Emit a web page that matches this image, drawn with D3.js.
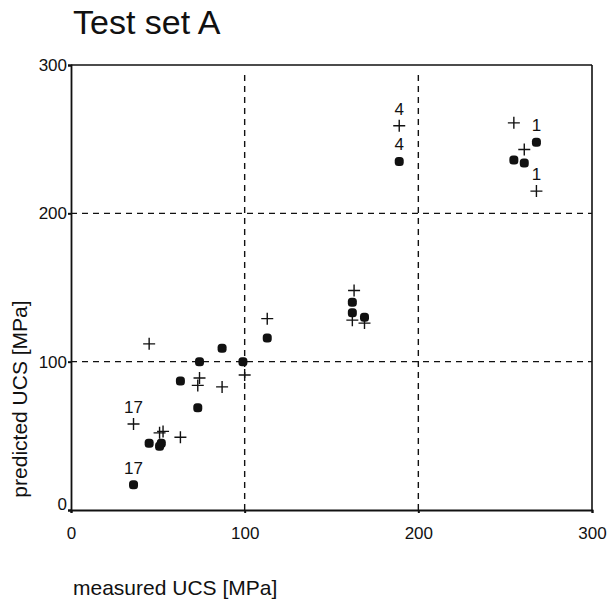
<!DOCTYPE html>
<html><head><meta charset="utf-8">
<script src="https://cdn.jsdelivr.net/npm/d3@7"></script>
<style>body{margin:0;background:#fff}svg{display:block}text{font-family:"Liberation Sans",Arial,sans-serif;fill:#111}</style>
</head><body>
<svg id="c" width="608" height="603"></svg>
<script>
const title = "Test set A";
const xLabel = "measured UCS [MPa]";
const yLabel = "predicted UCS [MPa]";
const xTicks = [0, 100, 200, 300];
const yTicks = [0, 100, 200, 300];
const gridX = [100, 200];
const gridY = [100, 200];
// filled dots series [measured, predicted]
const dotX = [36, 45, 51, 52, 63, 74, 73, 87, 99, 113, 162, 162, 169, 189, 255, 261, 268];
const dotY = [17, 45, 43, 45, 87, 100, 69, 109, 100, 116, 140, 133, 130, 235, 236, 234, 248];
// plus series
const plusX = [36, 45, 51, 53, 63, 74, 73, 87, 100, 113, 163, 162, 169, 189, 255, 261, 268];
const plusY = [58, 112, 52, 53, 49, 89, 84, 83, 91, 129, 148, 128, 126, 259, 261, 243, 215];
// point labels
const labelText = ["17", "17", "4", "4", "1", "1"];
const labelX = [36, 36, 189, 189, 268, 268];
const labelY = [58, 17, 259, 235, 248, 215];

const svg = d3.select("#c");
const x = d3.scaleLinear().domain([0, 300]).range([71, 592]);
const y = d3.scaleLinear().domain([0, 300]).range([510, 65]);

// frame
svg.append("line").attr("x1", x(0)).attr("x2", x(300)).attr("y1", y(300)).attr("y2", y(300)).attr("stroke", "#111").attr("stroke-width", 1.6);
svg.append("line").attr("x1", x(300)).attr("x2", x(300)).attr("y1", y(300)).attr("y2", y(0)).attr("stroke", "#111").attr("stroke-width", 1.6);

// grid
svg.selectAll(".gx").data(gridX).enter().append("line")
  .attr("x1", d => x(d)).attr("x2", d => x(d)).attr("y1", y(0)).attr("y2", y(296))
  .attr("stroke", "#111").attr("stroke-width", 1.4).attr("stroke-dasharray", "6,5");
svg.selectAll(".gy").data(gridY).enter().append("line")
  .attr("x1", x(0)).attr("x2", x(300)).attr("y1", d => y(d)).attr("y2", d => y(d))
  .attr("stroke", "#111").attr("stroke-width", 1.4).attr("stroke-dasharray", "6,5");

// axes
const xa = svg.append("g").attr("transform", `translate(0,${y(0)})`)
  .call(d3.axisBottom(x).tickValues(xTicks).tickSize(3).tickPadding(14));
const ya = svg.append("g").attr("transform", `translate(${x(0)},0)`)
  .call(d3.axisLeft(y).tickValues(yTicks).tickSize(3).tickPadding(1));
[xa, ya].forEach(g => {
  g.select(".domain").attr("stroke", "#111").attr("stroke-width", 1.8);
  g.selectAll(".tick line").attr("stroke", "#111").attr("stroke-width", 2);
  g.selectAll(".tick text").attr("font-size", 17).attr("font-family", "Liberation Sans, Arial, sans-serif").attr("fill", "#111");
});
ya.selectAll(".tick text").attr("dy", (d) => d === 0 ? "-0.05em" : "0.32em");

// dots
svg.selectAll(".dot").data(dotX.map((d, i) => [d, dotY[i]])).enter().append("rect")
  .attr("x", d => x(d[0]) - 4.5).attr("y", d => y(d[1]) - 4.5)
  .attr("width", 9).attr("height", 9).attr("rx", 3.5).attr("fill", "#111");

// plus
svg.selectAll(".plus").data(plusX.map((d, i) => [d, plusY[i]])).enter().append("path")
  .attr("d", d => { const cx = x(d[0]), cy = y(d[1]); return `M${cx-6},${cy}H${cx+6}M${cx},${cy-6}V${cy+6}`; })
  .attr("stroke", "#111").attr("stroke-width", 1.4).attr("fill", "none");

// labels
svg.selectAll(".lbl").data(labelText.map((t, i) => [t, labelX[i], labelY[i]])).enter().append("text")
  .attr("x", d => x(d[1])).attr("y", d => y(d[2]) - 11)
  .attr("text-anchor", "middle").attr("font-size", 17).text(d => d[0]);

// titles
svg.append("text").attr("x", 73).attr("y", 34).attr("font-size", 34).text(title);
svg.append("text").attr("x", 73).attr("y", 595).attr("font-size", 21).text(xLabel);
svg.append("text").attr("transform", "translate(27,399) rotate(-90)").attr("text-anchor", "middle").attr("font-size", 21).text(yLabel);
</script>
</body></html>
